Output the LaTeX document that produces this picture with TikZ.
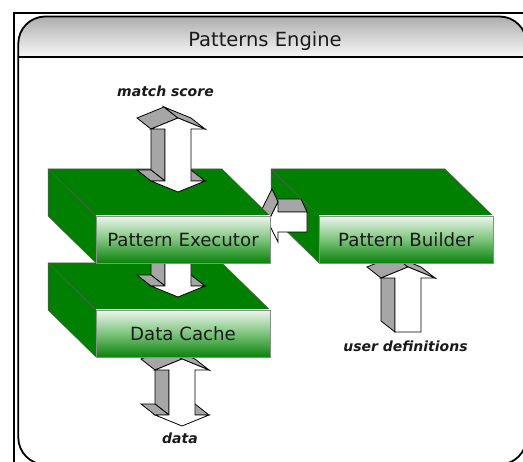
\documentclass[tikz,border=0pt]{standalone}
\usepackage{fontspec}
\setmainfont{DejaVu Sans}
\usetikzlibrary{calc}

\definecolor{slabgreen}{HTML}{008000}
\definecolor{facetop}{HTML}{ECF6EC}
\definecolor{facemid}{HTML}{7CC47C}
\definecolor{facebot}{HTML}{0A830A}
\definecolor{hdtop}{HTML}{ADADAD}
\definecolor{hdbot}{HTML}{F8F8F8}
\definecolor{arrowside}{HTML}{A6A6A6}
\definecolor{inktext}{HTML}{1A1A1A}

\tikzset{
  slabside/.style={fill=slabgreen, draw=black!65, line width=0.5pt, line join=round},
  slabfront/.style={draw=black!45, line width=0.6pt, top color=facetop, bottom color=facebot,
    middle color=facemid, minimum width=174pt, minimum height=47pt, inner sep=0pt,
    font=\fontsize{18.2}{20}\selectfont, text=inktext},
  arrowface/.style={fill=white, draw=black, line width=0.8pt, line join=miter},
  arrowshade/.style={fill=arrowside, draw=black, line width=0.8pt, line join=miter},
  flowlabel/.style={font=\fontsize{14}{16}\selectfont\bfseries\itshape, text=inktext,
    inner sep=0pt, anchor=base},
}

% side face of a block arrow: edge (#1)-(#2) pushed back by the depth vector #3
\newcommand{\depthquad}[3]{\path[arrowshade] (#1) -- (#2) -- ($(#2)+(#3)$) -- ($(#1)+(#3)$) -- cycle;}

% vertical two-headed block arrow: name, centre x, upper tip y, lower tip y
\newcommand{\bidirarrow}[4]{%
  \coordinate (#1-1) at (#2,#3);
  \coordinate (#1-2) at ({#2+27},{#3+11});
  \coordinate (#1-3) at ({#2+13},{#3+11});
  \coordinate (#1-4) at ({#2+13},{#4-11});
  \coordinate (#1-5) at ({#2+27},{#4-11});
  \coordinate (#1-6) at (#2,#4);
  \coordinate (#1-7) at ({#2-27},{#4-11});
  \coordinate (#1-8) at ({#2-13},{#4-11});
  \coordinate (#1-9) at ({#2-13},{#3+11});
  \coordinate (#1-10) at ({#2-27},{#3+11});
  \depthquad{#1-8}{#1-9}{-14,-11}
  \depthquad{#1-7}{#1-8}{-14,-11}
  \depthquad{#1-4}{#1-5}{-14,-11}
  \depthquad{#1-10}{#1-1}{-14,-11}
  \depthquad{#1-1}{#1-2}{-14,-11}
  \path[arrowface] (#1-1) -- (#1-2) -- (#1-3) -- (#1-4) -- (#1-5) -- (#1-6)
    -- (#1-7) -- (#1-8) -- (#1-9) -- (#1-10) -- cycle;
}

% vertical one-headed block arrow pointing up: name, centre x, tip y, tail y
\newcommand{\uparrowblock}[4]{%
  \coordinate (#1-1) at (#2,#3);
  \coordinate (#1-2) at ({#2+27},{#3+11});
  \coordinate (#1-3) at ({#2+13},{#3+11});
  \coordinate (#1-4) at ({#2+13},#4);
  \coordinate (#1-5) at ({#2-13},#4);
  \coordinate (#1-6) at ({#2-13},{#3+11});
  \coordinate (#1-7) at ({#2-27},{#3+11});
  \depthquad{#1-5}{#1-6}{-14,-11}
  \depthquad{#1-7}{#1-1}{-14,-11}
  \depthquad{#1-1}{#1-2}{-14,-11}
  \path[arrowface] (#1-1) -- (#1-2) -- (#1-3) -- (#1-4) -- (#1-5) -- (#1-6) -- (#1-7) -- cycle;
}

% green 3-D slab: back-left corner x, y; name of the front face; its text
\newcommand{\greenslab}[4]{%
  \path[slabside] (#1,#2) -- ({#1+174},#2) -- ({#1+222},{#2+47}) -- ({#1+48},{#2+47}) -- cycle;
  \path[slabside] (#1,#2) -- ({#1+48},{#2+47}) -- ({#1+48},{#2+94}) -- (#1,{#2+47}) -- cycle;
  \node[slabfront] (#3) at ({#1+135},{#2+70.5}) {#4};
}

\begin{document}
\begin{tikzpicture}[x=1pt, y=-1pt]
  \useasboundingbox (0,0) rectangle (523,462);
  \clip (0,0) rectangle (523,462);
  \fill[white] (0,0) rectangle (523,462);

  % outer frame
  \draw[line width=2pt] (13.5,13.5) rectangle (560,500);

  % engine panel with its shaded title bar
  \begin{scope}
    \clip[rounded corners=27pt] (18.3,16.5) rectangle (526.5,464.5);
    \shade[top color=hdtop, bottom color=hdbot] (18,16) rectangle (527,57);
  \end{scope}
  \draw[line width=1.6pt] (18.3,57) -- (526.5,57);
  \draw[line width=1.8pt, rounded corners=27pt] (18.3,16.5) rectangle (526.5,464.5);
  \node[font=\fontsize{19.5}{22}\selectfont, text=inktext, anchor=base, inner sep=0pt]
    (title) at (265,46.5) {Patterns Engine};

  % input of user definitions into the builder
  \uparrowblock{ud}{408}{267}{332}
  \greenslab{271}{169}{builder}{Pattern Builder}

  % builder feeding the executor
  \coordinate (h-t) at (268,222);
  \coordinate (h-a) at (278,202);
  \coordinate (h-b) at (278,212);
  \coordinate (h-c) at (307,212);
  \coordinate (h-d) at (307,232);
  \coordinate (h-e) at (278,232);
  \coordinate (h-f) at (278,242);
  \depthquad{h-b}{h-c}{-6,-13}
  \depthquad{h-t}{h-a}{-6,-13}
  \path[arrowface] (h-t) -- (h-a) -- (h-b) -- (h-c) -- (h-d) -- (h-e) -- (h-f) -- cycle;

  % data in and out of the cache
  \bidirarrow{da}{182}{359}{426}
  \greenslab{48}{263}{cache}{Data Cache}

  % executor <-> cache
  \bidirarrow{mid}{178}{236}{297}
  \greenslab{48}{169}{exec}{Pattern Executor}

  % match score out of the executor
  \bidirarrow{ms}{178}{118}{192}

  % flow labels
  \node[flowlabel] (lms) at (165.5,97) {match score};
  \node[flowlabel] (lud) at (405.5,352) {user definitions};
  \node[flowlabel] (lda) at (180,444) {data};
\end{tikzpicture}
\end{document}
